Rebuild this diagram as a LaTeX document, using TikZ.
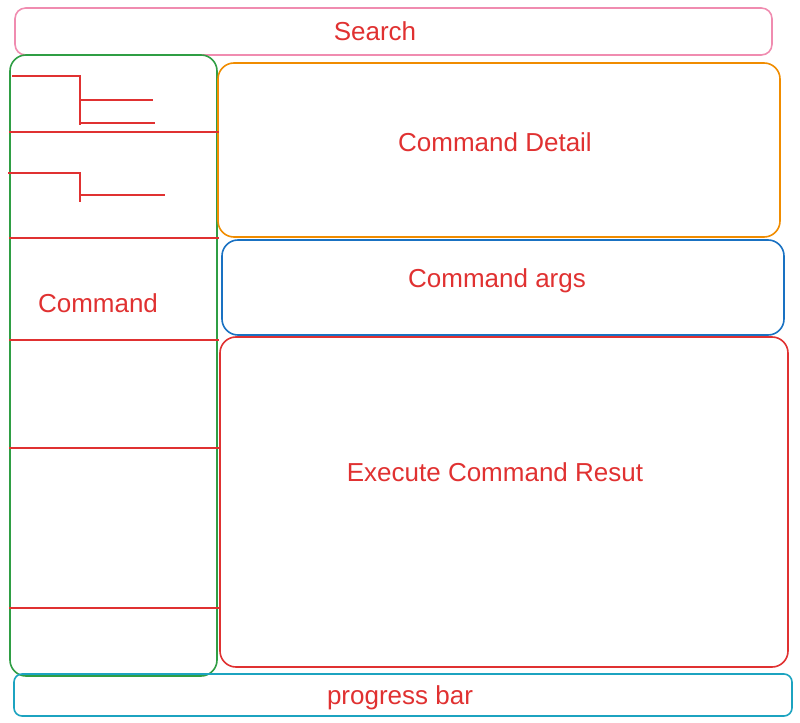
\documentclass[tikz,border=0pt]{standalone}
\usepackage{fontspec}
\setmainfont{Liberation Sans}
\usetikzlibrary{fit}

\definecolor{pinkline}{HTML}{F08CB0}
\definecolor{greenline}{HTML}{2F9E44}
\definecolor{orangeline}{HTML}{F08C00}
\definecolor{blueline}{HTML}{1971C2}
\definecolor{redline}{HTML}{E03131}
\definecolor{cyanline}{HTML}{1CA3C0}

\tikzset{
  panel/.style={draw=#1, line width=1.2pt, rounded corners=12pt, inner sep=0pt},
  caption/.style={text=redline, font=\fontsize{19.5}{22}\selectfont},
  rule/.style={draw=redline, line width=1.5pt},
}

\begin{document}
\begin{tikzpicture}[x=0.75pt,y=-0.75pt]
  \useasboundingbox (0,0) rectangle (800,723);

  % outer panels
  \node[panel=pinkline, rounded corners=8pt, fit={(15,8) (772,55)}]      (search) {};
  \node[panel=greenline, fit={(10,55) (217,676)}]     (cmd)    {};
  \node[panel=orangeline, fit={(218,63) (780,237)}]   (detail) {};
  \node[panel=blueline, fit={(222,240) (784,335)}]    (args)   {};
  \node[panel=redline, fit={(220,337) (788,667)}]     (result) {};
  \node[panel=cyanline, rounded corners=6pt, fit={(14,674) (792,716)}] (progress) {};

  % labels
  \node[caption] (searchlbl)   at (375,31)  {Search};
  \node[caption] (cmdlbl)      at (98,303)  {Command};
  \node[caption] (detaillbl)   at (495,142) {Command Detail};
  \node[caption] (argslbl)     at (497,281) {Command args};
  \node[caption] (resultlbl)   at (495,472) {Execute Command Resut};
  \node[caption] (progresslbl) at (400,698) {progress bar};

  % command list rows
  \foreach \y in {132,238,340,448,608}
    \draw[rule] (9,\y) -- (219,\y);

  % first tree
  \draw[rule] (12,76) -- (80,76) -- (80,125);
  \draw[rule] (80,100) -- (153,100);
  \draw[rule] (80,123) -- (155,123);

  % second tree
  \draw[rule] (8,173) -- (80,173) -- (80,202);
  \draw[rule] (80,195) -- (165,195);
\end{tikzpicture}
\end{document}
